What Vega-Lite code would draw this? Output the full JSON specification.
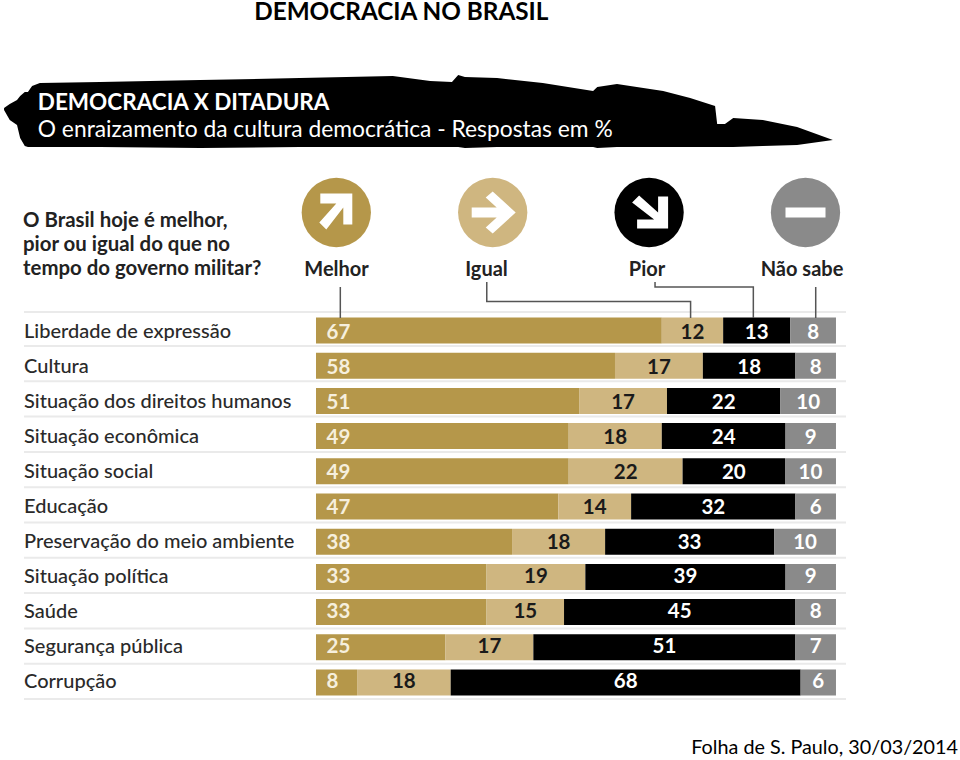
{"$schema":"https://vega.github.io/schema/vega-lite/v6.json","autosize":{"type":"fit","contains":"padding"},"width":960,"height":760,"padding":0,"background":"white",
"config":{"axis":{"disable":true},"legend":{"disable":true},"view":{"stroke":null},"text":{"font":"Lato"}},
"resolve":{"scale":{"x":"independent","y":"independent","color":"independent","shape":"independent"}},
"datasets":{
"temas":[{"tema":"Liberdade de expressão"},{"tema":"Cultura"},{"tema":"Situação dos direitos humanos"},{"tema":"Situação econômica"},{"tema":"Situação social"},{"tema":"Educação"},{"tema":"Preservação do meio ambiente"},{"tema":"Situação política"},{"tema":"Saúde"},{"tema":"Segurança pública"},{"tema":"Corrupção"}],
"respostas":[
{"tema":"Liberdade de expressão","resposta":"Melhor","ordem":1,"valor":67,"largura":66.5},{"tema":"Liberdade de expressão","resposta":"Igual","ordem":2,"valor":12,"largura":11.8},{"tema":"Liberdade de expressão","resposta":"Pior","ordem":3,"valor":13,"largura":12.9},{"tema":"Liberdade de expressão","resposta":"Não sabe","ordem":4,"valor":8,"largura":8.8},
{"tema":"Cultura","resposta":"Melhor","ordem":1,"valor":58,"largura":57.5},{"tema":"Cultura","resposta":"Igual","ordem":2,"valor":17,"largura":16.9},{"tema":"Cultura","resposta":"Pior","ordem":3,"valor":18,"largura":17.8},{"tema":"Cultura","resposta":"Não sabe","ordem":4,"valor":8,"largura":7.8},
{"tema":"Situação dos direitos humanos","resposta":"Melhor","ordem":1,"valor":51,"largura":50.6},{"tema":"Situação dos direitos humanos","resposta":"Igual","ordem":2,"valor":17,"largura":16.9},{"tema":"Situação dos direitos humanos","resposta":"Pior","ordem":3,"valor":22,"largura":21.8},{"tema":"Situação dos direitos humanos","resposta":"Não sabe","ordem":4,"valor":10,"largura":10.7},
{"tema":"Situação econômica","resposta":"Melhor","ordem":1,"valor":49,"largura":48.6},{"tema":"Situação econômica","resposta":"Igual","ordem":2,"valor":18,"largura":17.9},{"tema":"Situação econômica","resposta":"Pior","ordem":3,"valor":24,"largura":23.8},{"tema":"Situação econômica","resposta":"Não sabe","ordem":4,"valor":9,"largura":9.7},
{"tema":"Situação social","resposta":"Melhor","ordem":1,"valor":49,"largura":48.6},{"tema":"Situação social","resposta":"Igual","ordem":2,"valor":22,"largura":21.9},{"tema":"Situação social","resposta":"Pior","ordem":3,"valor":20,"largura":19.7},{"tema":"Situação social","resposta":"Não sabe","ordem":4,"valor":10,"largura":9.8},
{"tema":"Educação","resposta":"Melhor","ordem":1,"valor":47,"largura":46.6},{"tema":"Educação","resposta":"Igual","ordem":2,"valor":14,"largura":14},{"tema":"Educação","resposta":"Pior","ordem":3,"valor":32,"largura":31.6},{"tema":"Educação","resposta":"Não sabe","ordem":4,"valor":6,"largura":7.8},
{"tema":"Preservação do meio ambiente","resposta":"Melhor","ordem":1,"valor":38,"largura":37.7},{"tema":"Preservação do meio ambiente","resposta":"Igual","ordem":2,"valor":18,"largura":17.9},{"tema":"Preservação do meio ambiente","resposta":"Pior","ordem":3,"valor":33,"largura":32.5},{"tema":"Preservação do meio ambiente","resposta":"Não sabe","ordem":4,"valor":10,"largura":11.9},
{"tema":"Situação política","resposta":"Melhor","ordem":1,"valor":33,"largura":32.8},{"tema":"Situação política","resposta":"Igual","ordem":2,"valor":19,"largura":19},{"tema":"Situação política","resposta":"Pior","ordem":3,"valor":39,"largura":38.5},{"tema":"Situação política","resposta":"Não sabe","ordem":4,"valor":9,"largura":9.7},
{"tema":"Saúde","resposta":"Melhor","ordem":1,"valor":33,"largura":32.8},{"tema":"Saúde","resposta":"Igual","ordem":2,"valor":15,"largura":14.9},{"tema":"Saúde","resposta":"Pior","ordem":3,"valor":45,"largura":44.5},{"tema":"Saúde","resposta":"Não sabe","ordem":4,"valor":8,"largura":7.8},
{"tema":"Segurança pública","resposta":"Melhor","ordem":1,"valor":25,"largura":24.9},{"tema":"Segurança pública","resposta":"Igual","ordem":2,"valor":17,"largura":16.9},{"tema":"Segurança pública","resposta":"Pior","ordem":3,"valor":51,"largura":50.4},{"tema":"Segurança pública","resposta":"Não sabe","ordem":4,"valor":7,"largura":7.8},
{"tema":"Corrupção","resposta":"Melhor","ordem":1,"valor":8,"largura":7.9},{"tema":"Corrupção","resposta":"Igual","ordem":2,"valor":18,"largura":18},{"tema":"Corrupção","resposta":"Pior","ordem":3,"valor":68,"largura":67.3},{"tema":"Corrupção","resposta":"Não sabe","ordem":4,"valor":6,"largura":6.8}],
"icones":[{"resposta":"Melhor"},{"resposta":"Igual"},{"resposta":"Pior"},{"resposta":"Não sabe"}],
"faixa":[{"px":-0.603,"a":-5.4,"b":-5.343},{"px":-0.592,"a":-5.514,"b":-5.057},{"px":-0.578,"a":-5.629,"b":-4.914},{"px":-0.572,"a":-5.743,"b":-4.543},{"px":-0.563,"a":-5.857,"b":-4.314},{"px":-0.557,"a":-5.857,"b":-4.286},{"px":-0.549,"a":-6.029,"b":-4.286},{"px":-0.534,"a":-6.114,"b":-4.286},{"px":-0.418,"a":-6.143,"b":-4.286},{"px":-0.225,"a":-6.2,"b":-4.257},{"px":-0.033,"a":-6.257,"b":-4.286},{"px":0.146,"a":-6.314,"b":-4.286},{"px":0.218,"a":-6.171,"b":-4.286},{"px":0.26,"a":-6.143,"b":-4.286},{"px":0.272,"a":-6.343,"b":-4.286},{"px":0.285,"a":-6.286,"b":-4.257},{"px":0.347,"a":-6.257,"b":-4.286},{"px":0.435,"a":-6.114,"b":-4.286},{"px":0.532,"a":-5.886,"b":-4.286},{"px":0.54,"a":-6.0,"b":-4.257},{"px":0.578,"a":-6.086,"b":-4.286},{"px":0.667,"a":-5.886,"b":-4.286},{"px":0.719,"a":-5.686,"b":-4.286},{"px":0.767,"a":-5.457,"b":-4.286},{"px":0.771,"a":-4.943,"b":-4.286},{"px":0.786,"a":-4.943,"b":-4.286},{"px":0.802,"a":-5.114,"b":-4.286},{"px":0.859,"a":-5.057,"b":-4.314},{"px":0.925,"a":-4.857,"b":-4.343},{"px":0.994,"a":-4.486,"b":-4.486}],
"ligacoes":[{"r":"Melhor","i":1,"px":0.0449,"py":-0.286},{"r":"Melhor","i":2,"px":0.0449,"py":0.6},{"r":"Igual","i":1,"px":0.3271,"py":-0.429},{"r":"Igual","i":2,"px":0.3271,"py":0.129},{"r":"Igual","i":3,"px":0.7198,"py":0.129},{"r":"Igual","i":4,"px":0.7198,"py":0.6},{"r":"Pior","i":1,"px":0.6513,"py":-0.429},{"r":"Pior","i":2,"px":0.6513,"py":-0.286},{"r":"Pior","i":3,"px":0.8407,"py":-0.286},{"r":"Pior","i":4,"px":0.8407,"py":0.6},{"r":"Não sabe","i":1,"px":0.9609,"py":-0.286},{"r":"Não sabe","i":2,"px":0.9609,"py":0.6}]
},
"layer":[
{"data":{"name":"faixa"},"mark":{"type":"area","color":"#000000"},"encoding":{"x":{"field":"px","type":"quantitative","scale":{"domain":[-0.6108,1.2389]}},"y":{"field":"a","type":"quantitative","scale":{"domain":[13.229,-8.486]}},"y2":{"field":"b"}}},
{"data":{"name":"temas"},"mark":{"type":"rule","color":"#eaeaea","strokeWidth":2},"encoding":{"x":{"datum":-0.5645,"type":"quantitative","scale":{"domain":[-0.6108,1.2389]}},"x2":{"datum":1.0193},"y":{"field":"tema","type":"nominal","sort":null,"scale":{"type":"point","padding":0,"range":[346,699]}}}},
{"data":{"name":"icones"},"transform":[{"filter":"datum.resposta=='Melhor'"}],"mark":{"type":"rule","color":"#eaeaea","strokeWidth":2},"encoding":{"x":{"datum":-0.5645,"type":"quantitative","scale":{"domain":[-0.6108,1.2389]}},"x2":{"datum":1.0193},"y":{"datum":0.429,"type":"quantitative","scale":{"domain":[13.229,-8.486]}}}},
{"data":{"name":"respostas"},"mark":{"type":"bar","size":26,"orient":"horizontal"},"encoding":{"x":{"field":"largura","type":"quantitative","stack":"normalize","scale":{"domain":[-0.6077,1.2385]}},"y":{"field":"tema","type":"nominal","sort":null,"scale":{"type":"point","padding":0,"range":[330.5,682.5]}},"order":{"field":"ordem"},"color":{"field":"resposta","type":"nominal","scale":{"domain":["Melhor","Igual","Pior","Não sabe"],"range":["#b5974a","#cfb680","#000000","#8a8a8a"]}}}},
{"data":{"name":"ligacoes"},"mark":{"type":"line","color":"#555555","strokeWidth":1.5},"encoding":{"x":{"field":"px","type":"quantitative","scale":{"domain":[-0.6108,1.2389]}},"y":{"field":"py","type":"quantitative","scale":{"domain":[13.229,-8.486]}},"detail":{"field":"r"},"order":{"field":"i"}}},
{"data":{"name":"icones"},"mark":{"type":"point","filled":true,"opacity":1,"size":4800,"shape":"circle"},"encoding":{"x":{"field":"resposta","type":"nominal","sort":null,"scale":{"type":"point","padding":0,"range":[336.3,805.5]}},"y":{"datum":-2.414,"type":"quantitative","scale":{"domain":[13.229,-8.486]}},"color":{"field":"resposta","type":"nominal","scale":{"domain":["Melhor","Igual","Pior","Não sabe"],"range":["#b5974a","#cfb680","#000000","#8a8a8a"]}}}},
{"data":{"name":"icones"},"mark":{"type":"point","filled":true,"opacity":1,"size":2500,"color":"#ffffff"},"encoding":{"x":{"field":"resposta","type":"nominal","sort":null,"scale":{"type":"point","padding":0,"range":[336.3,805.5]}},"y":{"datum":-2.414,"type":"quantitative","scale":{"domain":[13.229,-8.486]}},"shape":{"field":"resposta","type":"nominal","scale":{"domain":["Melhor","Igual","Pior","Não sabe"],"range":["M-.64,-.76L.64,-.76L.64,.48L.28,.48L.28,-.2L-.4,.68L-.68,.4L0,-.36L-.64,-.36Z","M-.84,-.2L.16,-.2L-.28,-.6L0,-.84L.92,0L0,.84L-.28,.6L.16,.2L-.84,.2Z","M.76,-.64L.76,.64L-.48,.64L-.48,.28L.2,.28L-.68,-.4L-.4,-.68L.36,0L.36,-.64Z","M-.8,-.2L.8,-.2L.8,.2L-.8,.2Z"]}}}},
{"data":{"name":"temas"},"mark":{"type":"text","align":"left","baseline":"middle","fontSize":20,"fontWeight":500,"color":"#2a2a2a"},"encoding":{"x":{"datum":-0.5645,"type":"quantitative","scale":{"domain":[-0.6108,1.2389]}},"y":{"field":"tema","type":"nominal","sort":null,"scale":{"type":"point","padding":0,"range":[332,682]}},"text":{"field":"tema"}}},
{"data":{"name":"respostas"},"transform":[{"filter":"datum.resposta=='Melhor'"}],"mark":{"type":"text","align":"left","baseline":"middle","fontSize":20.5,"fontWeight":"bold","dx":10.5,"color":"#f6efdd"},"encoding":{"x":{"datum":0,"type":"quantitative","scale":{"domain":[-0.6077,1.2385]}},"y":{"field":"tema","type":"nominal","sort":null,"scale":{"type":"point","padding":0,"range":[333.3,682]}},"text":{"field":"valor"}}},
{"data":{"name":"respostas"},"transform":[{"stack":"largura","groupby":["tema"],"offset":"normalize","sort":[{"field":"ordem"}],"as":["x0","x1"]},{"filter":"datum.resposta!='Melhor'"},{"calculate":"(datum.x0+datum.x1)/2","as":"meio"}],"mark":{"type":"text","align":"center","baseline":"middle","fontSize":20.5,"fontWeight":"bold"},"encoding":{"x":{"field":"meio","type":"quantitative","scale":{"domain":[-0.6077,1.2385]}},"y":{"field":"tema","type":"nominal","sort":null,"scale":{"type":"point","padding":0,"range":[333.3,682]}},"text":{"field":"valor"},"color":{"field":"resposta","type":"nominal","scale":{"domain":["Igual","Pior","Não sabe"],"range":["#1a1a1a","#ffffff","#ffffff"]}}}},
{"data":{"name":"icones"},"transform":[{"filter":"datum.resposta=='Melhor'"}],"mark":{"type":"text","align":"left","baseline":"alphabetic","fontSize":24.3,"fontWeight":"bold","color":"#000000"},"encoding":{"x":{"datum":-0.121,"type":"quantitative","scale":{"domain":[-0.6108,1.2389]}},"y":{"datum":-7.926,"type":"quantitative","scale":{"domain":[13.229,-8.486]}},"text":{"value":"DEMOCRACIA NO BRASIL"}}},
{"data":{"name":"icones"},"transform":[{"filter":"datum.resposta=='Melhor'"}],"mark":{"type":"text","align":"left","baseline":"middle","fontSize":22.5,"fontWeight":"bold","color":"#ffffff"},"encoding":{"x":{"datum":-0.538,"type":"quantitative","scale":{"domain":[-0.6108,1.2389]}},"y":{"datum":-5.543,"type":"quantitative","scale":{"domain":[13.229,-8.486]}},"text":{"value":"DEMOCRACIA X DITADURA"}}},
{"data":{"name":"icones"},"transform":[{"filter":"datum.resposta=='Melhor'"}],"mark":{"type":"text","align":"left","baseline":"middle","fontSize":22.8,"color":"#ffffff"},"encoding":{"x":{"datum":-0.538,"type":"quantitative","scale":{"domain":[-0.6108,1.2389]}},"y":{"datum":-4.77,"type":"quantitative","scale":{"domain":[13.229,-8.486]}},"text":{"value":"O enraizamento da cultura democrática - Respostas em %"}}},
{"data":{"name":"icones"},"transform":[{"filter":"datum.resposta=='Melhor'"}],"mark":{"type":"text","align":"left","baseline":"middle","fontSize":20.4,"fontWeight":"bold","color":"#222222","lineBreak":"\n","lineHeight":24},"encoding":{"x":{"datum":-0.5665,"type":"quantitative","scale":{"domain":[-0.6108,1.2389]}},"y":{"datum":-2.17,"type":"quantitative","scale":{"domain":[13.229,-8.486]}},"text":{"value":"O Brasil hoje é melhor,\npior ou igual do que no\ntempo do governo militar?"}}},
{"data":{"name":"icones"},"transform":[{"filter":"datum.resposta=='Melhor'"}],"mark":{"type":"text","align":"center","baseline":"middle","fontSize":20,"fontWeight":"bold","color":"#222222"},"encoding":{"x":{"datum":0.0376,"type":"quantitative","scale":{"domain":[-0.6108,1.2389]}},"y":{"datum":-0.76,"type":"quantitative","scale":{"domain":[13.229,-8.486]}},"text":{"field":"resposta"}}},
{"data":{"name":"icones"},"transform":[{"filter":"datum.resposta=='Igual'"}],"mark":{"type":"text","align":"center","baseline":"middle","fontSize":20,"fontWeight":"bold","color":"#222222"},"encoding":{"x":{"datum":0.3266,"type":"quantitative","scale":{"domain":[-0.6108,1.2389]}},"y":{"datum":-0.76,"type":"quantitative","scale":{"domain":[13.229,-8.486]}},"text":{"field":"resposta"}}},
{"data":{"name":"icones"},"transform":[{"filter":"datum.resposta=='Pior'"}],"mark":{"type":"text","align":"center","baseline":"middle","fontSize":20,"fontWeight":"bold","color":"#222222"},"encoding":{"x":{"datum":0.6358,"type":"quantitative","scale":{"domain":[-0.6108,1.2389]}},"y":{"datum":-0.76,"type":"quantitative","scale":{"domain":[13.229,-8.486]}},"text":{"field":"resposta"}}},
{"data":{"name":"icones"},"transform":[{"filter":"datum.resposta=='Não sabe'"}],"mark":{"type":"text","align":"center","baseline":"middle","fontSize":20,"fontWeight":"bold","color":"#222222"},"encoding":{"x":{"datum":0.9345,"type":"quantitative","scale":{"domain":[-0.6108,1.2389]}},"y":{"datum":-0.76,"type":"quantitative","scale":{"domain":[13.229,-8.486]}},"text":{"field":"resposta"}}},
{"data":{"name":"icones"},"transform":[{"filter":"datum.resposta=='Melhor'"}],"mark":{"type":"text","align":"right","baseline":"middle","fontSize":19.8,"color":"#000000"},"encoding":{"x":{"datum":1.235,"type":"quantitative","scale":{"domain":[-0.6108,1.2389]}},"y":{"datum":12.886,"type":"quantitative","scale":{"domain":[13.229,-8.486]}},"text":{"value":"Folha de S. Paulo, 30/03/2014"}}}
]}
